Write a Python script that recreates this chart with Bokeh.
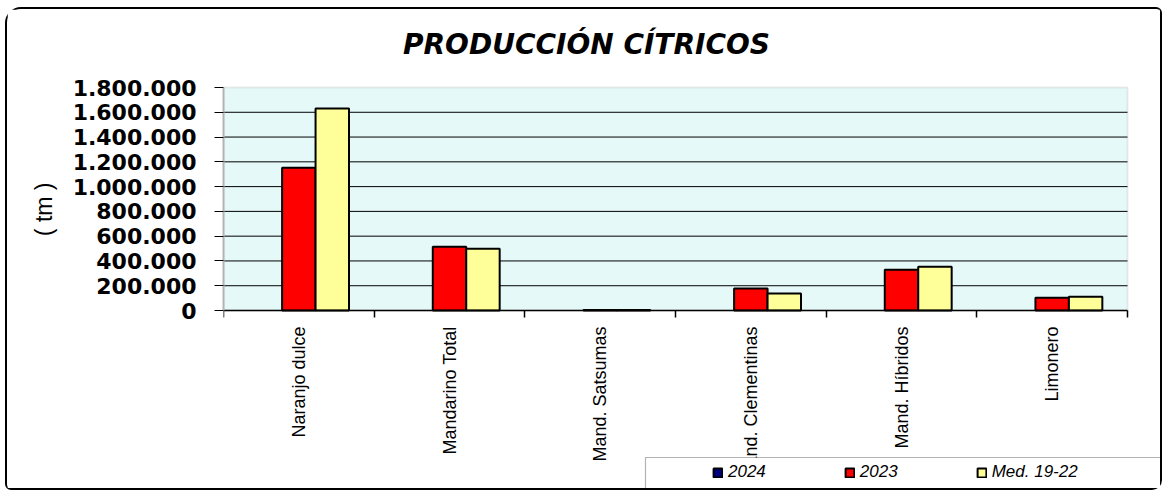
import numpy as np
from bokeh.plotting import figure
from bokeh.models import (ColumnDataSource, Range1d, FixedTicker, CustomJSTickFormatter,
                          Legend, LegendItem, BoxAnnotation, LinearAxis, Title, Label)
from bokeh.transform import dodge
from bokeh.embed import file_html
from bokeh.resources import INLINE

categories = ["Naranjo dulce", "Mandarino Total", "Mand. Satsumas",
              "Mand. Clementinas", "Mand. Híbridos", "Limonero"]
values_2024 = [np.nan, np.nan, np.nan, np.nan, np.nan, np.nan]
values_2023 = [1153000, 514000, 4000, 178000, 329000, 102000]
values_med = [1630000, 498000, 5000, 137000, 353000, 110000]
series_labels = ["2024", "2023", "Med. 19-22"]
series_colors = ["#000080", "#ff0000", "#ffff99"]
title_text = "PRODUCCIÓN CÍTRICOS"
y_title = "( tm )"
y_max = 1800000
y_ticks = list(range(0, y_max + 1, 200000))

n = len(categories)
x_pos = [i + 0.5 for i in range(n)]
src = ColumnDataSource(dict(x=x_pos, v2024=np.array(values_2024, dtype=float),
                            v2023=values_2023, vmed=values_med))

# layout geometry (canvas pixels)
W, H = 1157, 483
left, border = 216, 1
plot_w = 904
plot_top, plot_bottom = 78, 301      # cyan plotting area
frame_top, frame_bottom = border, H - border
frame_w = W - left - border
x_hi = n * frame_w / plot_w
per_px = y_max / (plot_bottom - plot_top)
y_hi = y_max + (plot_top - frame_top) * per_px
y_lo = -(frame_bottom - plot_bottom) * per_px

p = figure(width=W, height=H, output_backend="svg", toolbar_location=None,
           title=None, x_range=Range1d(0, x_hi), y_range=Range1d(y_lo, y_hi),
           x_axis_location=None,
           min_border_left=left, min_border_right=border, min_border_top=border,
           min_border_bottom=border)
p.styles = {"border": "2px solid black", "border-radius": "16px 6px 10px 6px",
            "margin-left": "5px", "margin-top": "7px"}
p.background_fill_color = "white"
p.border_fill_color = "white"
p.outline_line_color = None

# cyan plotting area with grey border
area = BoxAnnotation(left=0, right=n, bottom=0, top=y_max, level="image",
                     fill_color="#e6f9f9", fill_alpha=1,
                     line_color="#b8b8b8", line_width=2)
p.add_layout(area)

# horizontal grid lines limited to the plotting area
p.xgrid.visible = False
p.ygrid.visible = False
grid_y = y_ticks[1:-1]
p.segment(x0=[0] * len(grid_y), x1=[n] * len(grid_y), y0=grid_y, y1=grid_y,
          line_color="black", line_width=1)

bw = 0.222
cols = ["v2024", "v2023", "vmed"]
offsets = [-bw, 0, bw]
renderers = []
for col, off, color in zip(cols, offsets, series_colors):
    r = p.vbar(x=dodge("x", off, range=p.x_range), top=col, width=bw, source=src,
               fill_color=color, line_color="black", line_width=2)
    renderers.append(r)

# y axis
ya = p.yaxis[0]
ya.bounds = (0, y_max)
ya.ticker = FixedTicker(ticks=y_ticks)
ya.formatter = CustomJSTickFormatter(
    code="return Math.round(tick).toString().replace(/\\B(?=(\\d{3})+(?!\\d))/g, '.');")
ya.major_label_text_font = "DejaVu Sans"
ya.major_label_text_font_style = "bold"
ya.major_label_text_font_size = "22px"
ya.major_label_text_color = "black"
ya.major_tick_out = 9
ya.major_tick_in = 0
ya.major_tick_line_color = "black"
ya.minor_tick_line_color = None
ya.major_label_standoff = 18
ya.axis_line_color = "#b4b4b4"
ya.axis_line_width = 2

# y axis title as a side title
ytitle = Title(text=y_title, align="right", offset=172, standoff=26,
               text_font="Liberation Sans", text_font_style="normal",
               text_font_size="23px", text_color="black")
p.add_layout(ytitle, "left")

# x axis drawn at y = 0
xa = LinearAxis(fixed_location=0, bounds=(0, n))
xa.ticker = FixedTicker(ticks=x_pos, minor_ticks=list(range(n + 1)))
xa.major_label_overrides = {x: c for x, c in zip(x_pos, categories)}
xa.major_label_orientation = np.pi / 2
xa.major_label_text_font = "Liberation Sans"
xa.major_label_text_font_size = "18px"
xa.major_label_text_color = "black"
xa.major_tick_out = 0
xa.major_tick_in = 0
xa.minor_tick_out = 7
xa.minor_tick_in = 0
xa.minor_tick_line_color = "black"
xa.minor_tick_line_width = 1.5
xa.major_label_standoff = 9
xa.axis_line_color = "black"
xa.axis_line_width = 1.5
p.add_layout(xa, "below")

# chart title
title = Label(x=577, y=33, x_units="canvas", y_units="canvas", text=title_text,
              text_align="center", text_baseline="middle",
              text_font="DejaVu Sans", text_font_style="bold italic",
              text_font_size="28px", text_color="black")
p.add_layout(title)

# legend box + legend
box = BoxAnnotation(left=636, right=1155, top=446, bottom=480,
                    left_units="canvas", right_units="canvas",
                    top_units="canvas", bottom_units="canvas",
                    fill_color="white", fill_alpha=1,
                    line_color="black", line_width=1.2)
p.add_layout(box)

legend = Legend(items=[LegendItem(label=l, renderers=[r])
                       for l, r in zip(series_labels, renderers)],
                orientation="horizontal", location=(489, 9),
                glyph_width=11, glyph_height=11, label_standoff=5, spacing=78,
                padding=0, margin=0,
                border_line_color=None, background_fill_alpha=0,
                label_text_font="Liberation Sans", label_text_font_style="italic",
                label_text_font_size="17px", label_text_color="black")
p.add_layout(legend)

open("out.html", "w").write(file_html(p, INLINE))
